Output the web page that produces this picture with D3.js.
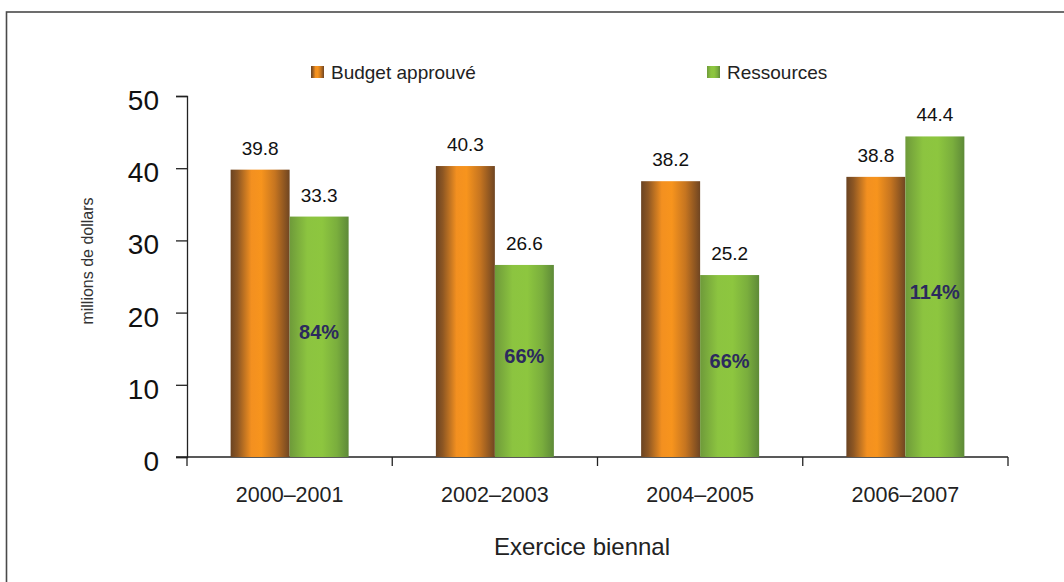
<!DOCTYPE html>
<html>
<head>
<meta charset="utf-8">
<script src="https://cdn.jsdelivr.net/npm/d3@7"></script>
<style>
  body { margin: 0; background: #fff; }
  svg { display: block; font-family: "Liberation Sans", Arial, sans-serif; }
</style>
</head>
<body>
<svg id="chart" width="1064" height="582"></svg>
<script>
// data
const periods = ["2000\u20132001", "2002\u20132003", "2004\u20132005", "2006\u20132007"];
const budget = [39.8, 40.3, 38.2, 38.8];
const resources = [33.3, 26.6, 25.2, 44.4];
const percents = ["84%", "66%", "66%", "114%"];
const yTicks = [0, 10, 20, 30, 40, 50];

const svg = d3.select("#chart");

// frame around the figure
svg.append("rect")
  .attr("x", 6.5).attr("y", 12)
  .attr("width", 1070).attr("height", 600)
  .attr("fill", "none")
  .attr("stroke", "#4a4a4a")
  .attr("stroke-width", 1.6);

const defs = svg.append("defs");
function addGrad(id, stops) {
  const g = defs.append("linearGradient").attr("id", id)
    .attr("x1", "0%").attr("x2", "100%").attr("y1", "0%").attr("y2", "0%");
  stops.forEach(s => g.append("stop").attr("offset", s[0]).attr("stop-color", s[1]));
}
addGrad("gOrange", [["0%", "#6a4322"], ["12%", "#8e5723"], ["35%", "#f39020"], ["52%", "#f7941d"], ["75%", "#c67520"], ["100%", "#6f4522"]]);
addGrad("gGreen", [["0%", "#6e9a3a"], ["30%", "#8cc440"], ["55%", "#8dc63f"], ["80%", "#7aae3d"], ["100%", "#5e8a38"]]);

const x = d3.scaleBand().domain(periods).range([187, 1008]);
const y = d3.scaleLinear().domain([0, 50]).range([457, 96]);
const barW = 59;

// y axis
const yAxis = svg.append("g").attr("transform", "translate(187,0)")
  .call(d3.axisLeft(y).tickValues(yTicks).tickSize(11).tickPadding(17));
yAxis.select(".domain").attr("stroke", "#222").attr("stroke-width", 1.3);
yAxis.selectAll(".tick line").attr("stroke", "#222").attr("stroke-width", 1.3);
yAxis.selectAll("text").attr("font-size", 28).attr("fill", "#111").attr("dy", "0.48em")
  .attr("font-family", "'Liberation Sans', Arial, sans-serif");

// x axis
const xAxis = svg.append("g").attr("transform", "translate(0,457)")
  .call(d3.axisBottom(x).tickSize(0).tickPadding(30));
xAxis.select(".domain").remove();
xAxis.selectAll("text").attr("font-size", 21.5).attr("fill", "#222")
  .attr("font-family", "'Liberation Sans', Arial, sans-serif");
svg.append("line").attr("x1", 176).attr("x2", 1008).attr("y1", 457).attr("y2", 457)
  .attr("stroke", "#222").attr("stroke-width", 1.3);
const edges = periods.map(p => x(p)).concat([x.range()[1]]);
svg.selectAll(".xtick").data(edges).enter().append("line")
  .attr("x1", d => d).attr("x2", d => d)
  .attr("y1", 457).attr("y2", 466)
  .attr("stroke", "#222").attr("stroke-width", 1.3);

// bars
const groups = svg.selectAll(".grp").data(periods).enter().append("g");
groups.append("rect")
  .attr("x", d => x(d) + x.bandwidth() / 2 - barW)
  .attr("y", (d, i) => y(budget[i]))
  .attr("width", barW)
  .attr("height", (d, i) => y(0) - y(budget[i]))
  .attr("fill", "url(#gOrange)");
groups.append("rect")
  .attr("x", d => x(d) + x.bandwidth() / 2)
  .attr("y", (d, i) => y(resources[i]))
  .attr("width", barW)
  .attr("height", (d, i) => y(0) - y(resources[i]))
  .attr("fill", "url(#gGreen)");

// value labels
groups.append("text")
  .attr("x", d => x(d) + x.bandwidth() / 2 - barW / 2)
  .attr("y", (d, i) => y(budget[i]) - 15)
  .attr("text-anchor", "middle").attr("font-size", 19).attr("fill", "#111")
  .text((d, i) => budget[i].toFixed(1));
groups.append("text")
  .attr("x", d => x(d) + x.bandwidth() / 2 + barW / 2)
  .attr("y", (d, i) => y(resources[i]) - 15)
  .attr("text-anchor", "middle").attr("font-size", 19).attr("fill", "#111")
  .text((d, i) => resources[i].toFixed(1));
groups.append("text")
  .attr("x", d => x(d) + x.bandwidth() / 2 + barW / 2)
  .attr("y", (d, i) => y(resources[i] / 2) + 2)
  .attr("text-anchor", "middle").attr("font-size", 20).attr("font-weight", "bold")
  .attr("fill", "#2c2a5e")
  .text((d, i) => percents[i]);

// legend
const legend = [["Budget approuv\u00e9", "url(#gOrange)", 311], ["Ressources", "url(#gGreen)", 707]];
legend.forEach(l => {
  svg.append("rect").attr("x", l[2]).attr("y", 66).attr("width", 13).attr("height", 12).attr("fill", l[1]);
  svg.append("text").attr("x", l[2] + 20).attr("y", 79).attr("font-size", 19).attr("fill", "#222").text(l[0]);
});

// axis titles
svg.append("text")
  .attr("transform", "translate(93,261) rotate(-90)")
  .attr("text-anchor", "middle").attr("font-size", 16).attr("fill", "#333")
  .text("millions de dollars");
svg.append("text")
  .attr("x", 582).attr("y", 555)
  .attr("text-anchor", "middle").attr("font-size", 24).attr("fill", "#222")
  .text("Exercice biennal");
</script>
</body>
</html>
